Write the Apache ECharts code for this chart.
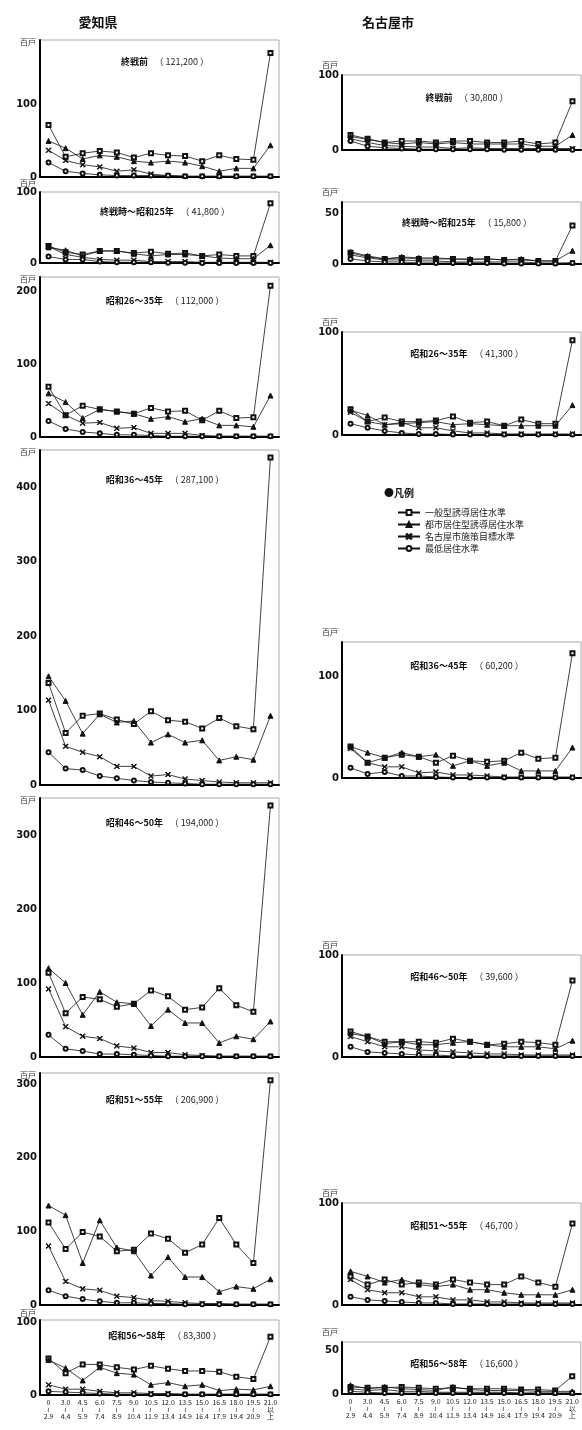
<!DOCTYPE html>
<html>
<head>
<meta charset="utf-8">
<script src="https://cdn.jsdelivr.net/npm/echarts@6/dist/echarts.min.js"></script>
<style>
  html, body { margin: 0; padding: 0; background: #fff; }
  #main { width: 582px; height: 1430px; }
</style>
</head>
<body>
<div id="main"></div>
<script type="text/javascript">
// 面積階級 (㎡ではなく居住面積区分)
var categories = ['0\n≀\n2.9', '3.0\n≀\n4.4', '4.5\n≀\n5.9', '6.0\n≀\n7.4', '7.5\n≀\n8.9',
  '9.0\n≀\n10.4', '10.5\n≀\n11.9', '12.0\n≀\n13.4', '13.5\n≀\n14.9', '15.0\n≀\n16.4',
  '16.5\n≀\n17.9', '18.0\n≀\n19.4', '19.5\n≀\n20.9', '21.0\n以\n上'];

var seriesNames = ['一般型誘導居住水準', '都市居住型誘導居住水準', '名古屋市施策目標水準', '最低居住水準'];

// 愛知県 (百戸)  [一般型, 都市居住型, 名古屋市施策目標, 最低]
var aichiPre = [
  [72, 28, 33, 36, 34, 27, 33, 30, 29, 22, 30, 25, 24, 172],
  [50, 40, 25, 30, 28, 22, 20, 22, 20, 15, 8, 12, 12, 44],
  [37, 23, 17, 14, 8, 10, 4, 2, 1, 1, 1, 1, 1, 1],
  [20, 8, 5, 3, 2, 2, 2, 2, 1, 1, 1, 1, 1, 1]
];
var aichiS25 = [
  [24, 15, 12, 17, 17, 14, 16, 13, 14, 10, 12, 10, 10, 84],
  [22, 18, 10, 17, 17, 13, 10, 12, 12, 10, 7, 6, 6, 25],
  [23, 12, 8, 5, 4, 4, 2, 2, 2, 1, 1, 1, 1, 1],
  [9, 5, 5, 2, 1, 1, 1, 0.5, 0.5, 0, 0, 0, 0, 0]
];
var aichiS35 = [
  [69, 30, 43, 38, 35, 32, 40, 35, 36, 23, 36, 26, 27, 208],
  [60, 48, 26, 38, 35, 32, 25, 28, 21, 25, 16, 16, 14, 57],
  [46, 30, 19, 20, 12, 13, 5, 5, 5, 2, 1, 1, 1, 1],
  [22, 11, 7, 5, 3, 3, 2, 1, 1, 1, 1, 1, 1, 1]
];
var aichiS45 = [
  [137, 70, 93, 96, 88, 82, 99, 87, 85, 76, 90, 79, 75, 440],
  [146, 113, 69, 95, 84, 86, 57, 68, 57, 60, 33, 38, 34, 93],
  [114, 52, 44, 38, 25, 25, 12, 14, 8, 6, 4, 3, 3, 3],
  [44, 22, 20, 12, 9, 6, 4, 3, 2, 1, 1, 1, 1, 1]
];
var aichiS50 = [
  [114, 59, 81, 78, 68, 72, 90, 82, 64, 67, 93, 70, 61, 340],
  [120, 100, 57, 88, 74, 72, 42, 64, 46, 46, 19, 28, 24, 48],
  [92, 41, 28, 25, 15, 12, 6, 6, 3, 2, 1, 1, 1, 1],
  [30, 11, 8, 4, 4, 3, 2, 1, 1, 1, 1, 1, 1, 1]
];
var aichiS55 = [
  [112, 76, 99, 93, 73, 75, 97, 90, 71, 82, 118, 82, 57, 305],
  [135, 122, 57, 115, 78, 73, 40, 65, 38, 38, 18, 25, 22, 35],
  [80, 32, 22, 20, 12, 10, 6, 5, 3, 2, 2, 1, 1, 1],
  [20, 12, 8, 5, 3, 3, 2, 2, 1, 1, 1, 1, 1, 1]
];
var aichiS58 = [
  [50, 30, 42, 42, 38, 35, 40, 36, 33, 33, 32, 25, 22, 80],
  [48, 37, 20, 38, 30, 28, 14, 17, 12, 14, 6, 8, 7, 12],
  [14, 8, 8, 5, 3, 3, 2, 2, 1, 1, 1, 1, 1, 1],
  [5, 4, 3, 2, 1, 1, 1, 1, 1, 1, 1, 1, 1, 1]
];

// 名古屋市 (百戸)
var nagoyaPre = [
  [20, 15, 10, 12, 12, 10, 12, 12, 10, 10, 12, 8, 10, 65],
  [18, 14, 10, 8, 10, 8, 10, 8, 8, 8, 8, 5, 5, 20],
  [15, 10, 6, 5, 4, 4, 2, 3, 2, 2, 2, 2, 2, 2],
  [12, 5, 3, 2, 1, 1, 1, 1, 1, 0.5, 0.5, 0.5, 0.5, 0.5]
];
var nagoyaS25 = [
  [11, 7, 5, 6, 5, 5, 5, 4, 5, 4, 4, 3, 3, 38],
  [12, 8, 5, 7, 6, 6, 5, 5, 5, 4, 5, 3, 3, 13],
  [9, 6, 4, 4, 3, 3, 2, 2, 2, 2, 2, 1, 1, 1],
  [5, 3, 2, 2, 1, 1, 1, 1, 1, 0.5, 0.5, 0.5, 0.5, 1]
];
var nagoyaS35 = [
  [25, 13, 17, 13, 13, 14, 18, 12, 13, 9, 15, 11, 11, 92],
  [24, 19, 10, 11, 12, 13, 10, 11, 10, 9, 9, 9, 9, 29],
  [22, 13, 10, 12, 7, 7, 4, 2, 2, 1, 1, 1, 1, 1],
  [11, 7, 4, 2, 1, 1, 0.5, 0.5, 0.5, 0.5, 0.5, 0.5, 0.5, 0.5]
];
var nagoyaS45 = [
  [31, 15, 20, 23, 21, 15, 22, 17, 16, 17, 25, 19, 20, 123],
  [31, 25, 20, 25, 21, 23, 12, 17, 12, 15, 7, 7, 7, 30],
  [29, 15, 11, 11, 5, 6, 3, 3, 2, 1, 1, 1, 1, 1],
  [10, 4, 6, 2, 2, 1, 0.5, 0.5, 0.5, 0.5, 0.5, 0.5, 0.5, 0.5]
];
var nagoyaS50 = [
  [25, 20, 15, 15, 15, 14, 18, 15, 12, 13, 15, 14, 12, 75],
  [23, 20, 13, 15, 12, 12, 14, 15, 12, 10, 10, 10, 8, 16],
  [20, 15, 10, 10, 7, 6, 5, 4, 3, 3, 2, 2, 2, 2],
  [10, 5, 4, 3, 2, 2, 1, 1, 1, 1, 1, 1, 1, 1]
];
var nagoyaS55 = [
  [28, 20, 25, 20, 22, 20, 25, 22, 20, 20, 28, 22, 18, 80],
  [33, 28, 22, 25, 20, 18, 20, 15, 15, 12, 10, 10, 10, 15],
  [25, 15, 12, 12, 8, 8, 5, 5, 3, 3, 2, 2, 2, 2],
  [8, 5, 4, 3, 2, 2, 1, 1, 1, 1, 1, 1, 1, 1]
];
var nagoyaS58 = [
  [8, 7, 7, 8, 7, 6, 7, 6, 6, 6, 5, 5, 4, 20],
  [10, 6, 8, 6, 5, 4, 8, 5, 4, 4, 4, 3, 3, 3],
  [6, 4, 5, 3, 3, 2, 2, 2, 2, 2, 1, 1, 1, 1],
  [3, 2, 1, 1, 1, 1, 1, 1, 1, 1, 1, 1, 1, 1]
];

// パネル配置
var panels = [
  { side: 'L', name: '終戦前', total: '121,200', data: aichiPre, top: 40, height: 137, max: 190, interval: 100, ty: 62 },
  { side: 'L', name: '終戦時～昭和25年', total: '41,800', data: aichiS25, top: 192, height: 71, max: 100, interval: 100, ty: 212 },
  { side: 'L', name: '昭和26～35年', total: '112,000', data: aichiS35, top: 277, height: 160, max: 220, interval: 100, ty: 301 },
  { side: 'L', name: '昭和36～45年', total: '287,100', data: aichiS45, top: 450, height: 335, max: 450, interval: 100, ty: 480 },
  { side: 'L', name: '昭和46～50年', total: '194,000', data: aichiS50, top: 798, height: 259, max: 350, interval: 100, ty: 823 },
  { side: 'L', name: '昭和51～55年', total: '206,900', data: aichiS55, top: 1073, height: 232, max: 315, interval: 100, ty: 1100 },
  { side: 'L', name: '昭和56～58年', total: '83,300', data: aichiS58, top: 1320, height: 75, max: 103, interval: 100, ty: 1336, last: true },
  { side: 'R', name: '終戦前', total: '30,800', data: nagoyaPre, top: 75, height: 75, max: 100, interval: 100, ty: 98 },
  { side: 'R', name: '終戦時～昭和25年', total: '15,800', data: nagoyaS25, top: 202, height: 62, max: 61, interval: 50, ty: 223 },
  { side: 'R', name: '昭和26～35年', total: '41,300', data: nagoyaS35, top: 332, height: 103, max: 100, interval: 100, ty: 354 },
  { side: 'R', name: '昭和36～45年', total: '60,200', data: nagoyaS45, top: 642, height: 136, max: 134, interval: 100, ty: 666 },
  { side: 'R', name: '昭和46～50年', total: '39,600', data: nagoyaS50, top: 955, height: 102, max: 100, interval: 100, ty: 977 },
  { side: 'R', name: '昭和51～55年', total: '46,700', data: nagoyaS55, top: 1203, height: 102, max: 100, interval: 100, ty: 1226 },
  { side: 'R', name: '昭和56～58年', total: '16,600', data: nagoyaS58, top: 1342, height: 52, max: 59, interval: 50, ty: 1364, last: true }
];

var FONT = '"Noto Sans CJK JP", "Noto Sans", sans-serif';
var crossPath = 'path://M0,1L1,0L5,4L9,0L10,1L6,5L10,9L9,10L5,6L1,10L0,9L4,5Z';
var symbols = ['emptyRect', 'triangle', crossPath, 'emptyCircle'];
var symbolSizes = [4, 5, 5, 4];

var grids = [], xAxes = [], yAxes = [], series = [], graphics = [];

panels.forEach(function (p, i) {
  var left = p.side === 'L' ? 40 : 342;
  grids.push({
    left: left, top: p.top, width: 239, height: p.height,
    show: true, borderColor: '#aaa', borderWidth: 1
  });
  xAxes.push({
    type: 'category', gridIndex: i, data: categories, boundaryGap: true,
    axisLine: { lineStyle: { color: '#000', width: 2 } },
    axisTick: { show: false },
    axisLabel: {
      show: !!p.last, interval: 0, fontSize: 7, lineHeight: 7, margin: 4,
      color: '#222', fontFamily: FONT
    }
  });
  yAxes.push({
    type: 'value', gridIndex: i, min: 0, max: p.max, interval: p.interval,
    name: '百戸', nameLocation: 'end',
    nameGap: p.side === 'L' ? -6 : 6,
    nameTextStyle: { fontSize: 8, color: '#333', align: 'right', fontFamily: FONT, padding: [0, 4, 0, 0] },
    axisLine: { show: true, lineStyle: { color: '#000', width: 2 } },
    axisTick: { show: false },
    splitLine: { show: false },
    axisLabel: {
      fontSize: 10, fontWeight: 'bold', color: '#111', margin: 3, fontFamily: 'DejaVu Sans',
      formatter: function (v) { return v % p.interval === 0 ? String(v) : ''; }
    }
  });
  p.data.forEach(function (vals, k) {
    series.push({
      name: seriesNames[k], type: 'line', xAxisIndex: i, yAxisIndex: i,
      data: vals, symbol: symbols[k], symbolSize: symbolSizes[k],
      lineStyle: { color: '#111', width: 0.8 },
      itemStyle: { color: '#111', borderColor: '#111', borderWidth: 1 },
      z: 3 + k
    });
  });
  graphics.push({
    type: 'text', x: left + 125, y: p.ty,
    style: {
      text: '{b|' + p.name + '}  {n|（ ' + p.total + ' ）}',
      align: 'center', verticalAlign: 'middle',
      rich: {
        b: { fontSize: 9, fontWeight: 'bold', fontFamily: FONT, fill: '#111' },
        n: { fontSize: 9, fontFamily: FONT, fill: '#222' }
      }
    }
  });
});

graphics.push(
  { type: 'text', x: 98, y: 22, style: { text: '愛知県', font: 'bold 13px ' + FONT, fill: '#111', align: 'center', verticalAlign: 'middle' } },
  { type: 'text', x: 388, y: 22, style: { text: '名古屋市', font: 'bold 13px ' + FONT, fill: '#111', align: 'center', verticalAlign: 'middle' } },
  { type: 'text', x: 384, y: 493, style: { text: '●凡例', font: 'bold 10px ' + FONT, fill: '#111', verticalAlign: 'middle' } }
);

var myChart = echarts.init(document.getElementById('main'), null, { renderer: 'canvas' });
var option = {
  animation: false,
  backgroundColor: '#fff',
  textStyle: { fontFamily: FONT },
  grid: grids,
  xAxis: xAxes,
  yAxis: yAxes,
  legend: {
    data: seriesNames, orient: 'vertical', left: 392, top: 503,
    itemWidth: 22, itemHeight: 6, itemGap: 3,
    textStyle: { fontSize: 9, color: '#222', fontFamily: FONT }
  },
  graphic: graphics,
  series: series
};
myChart.setOption(option);
</script>
</body>
</html>
